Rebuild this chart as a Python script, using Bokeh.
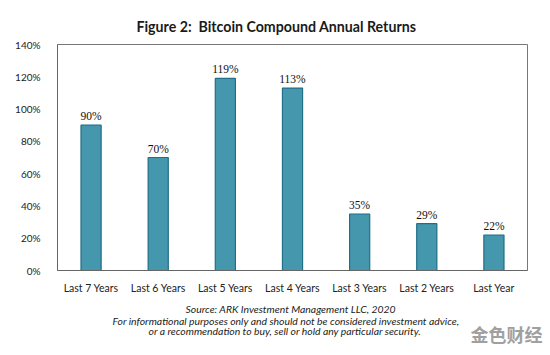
from bokeh.plotting import figure
from bokeh.models import ColumnDataSource, LabelSet, Range1d, FixedTicker, CustomJSTickFormatter, Title
from bokeh.embed import file_html
from bokeh.resources import INLINE

categories = ["Last 7 Years", "Last 6 Years", "Last 5 Years", "Last 4 Years",
              "Last 3 Years", "Last 2 Years", "Last Year"]
returns = [90, 70, 119, 113, 35, 29, 22]
value_labels = [f"{v}%" for v in returns]
y_ticks = [0, 20, 40, 60, 80, 100, 120, 140]

title_text = "Figure 2:\u00a0 Bitcoin Compound Annual Returns"
footer_lines = [
    "Source: ARK Investment Management LLC, 2020",
    "For informational purposes only and should not be considered investment advice,",
    "or a recommendation to buy, sell or hold any particular security.",
]
watermark = "金色财经"

FONT = "Lato"
src = ColumnDataSource(dict(cat=categories, val=returns, lab=value_labels))

p = figure(x_range=categories, y_range=Range1d(0, 140), width=550, height=355,
           output_backend="svg", toolbar_location=None,
           min_border_left=57, min_border_right=23, min_border_top=44, min_border_bottom=85)

p.vbar(x="cat", top="val", width=0.3, source=src,
       fill_color="#4597ad", line_color="#1f6f86", line_width=1.2)

p.add_layout(LabelSet(x="cat", y="val", text="lab", source=src, y_offset=3,
                      text_align="center", text_baseline="bottom",
                      text_font=FONT, text_font_size="11.5px", text_color="#111111"))

p.xgrid.visible = False
p.ygrid.visible = False
p.outline_line_color = "#777777"
p.background_fill_color = "white"
p.border_fill_color = "white"

p.yaxis.ticker = FixedTicker(ticks=y_ticks)
p.yaxis.formatter = CustomJSTickFormatter(code="return tick + '%'")
for ax in (p.xaxis, p.yaxis):
    ax.major_tick_line_color = None
    ax.minor_tick_line_color = None
    ax.axis_line_color = "#666666"
    ax.major_label_text_font = FONT
    ax.major_label_text_color = "#222222"
p.yaxis.major_label_text_font_size = "10px"
p.yaxis.major_label_standoff = 11
p.xaxis.major_label_text_font_size = "10.5px"
p.xaxis.major_label_standoff = 5

p.title.text = title_text
p.title.align = "left"
p.title.offset = 79
p.title.text_font = FONT
p.title.text_font_size = "14.2px"
p.title.text_font_style = "bold"
p.title.text_color = "#1a1a1a"
p.title.standoff = 20

footer_offsets = [128, 55, 91]
footer_standoffs = [9, -15, 7]
for line, off, so in zip(footer_lines, footer_offsets, footer_standoffs):
    p.add_layout(Title(text=line, align="left", offset=off, text_font=FONT,
                       text_font_size="10.4px", text_font_style="italic",
                       text_color="#222222", standoff=so), "below")

p.add_layout(Title(text=watermark, align="right", offset=-15, vertical_align="top",
                   text_font="Noto Sans CJK SC", text_font_size="18px",
                   text_color="#a0a0a0", standoff=-40), "below")

open("out.html", "w").write(file_html(p, INLINE))
